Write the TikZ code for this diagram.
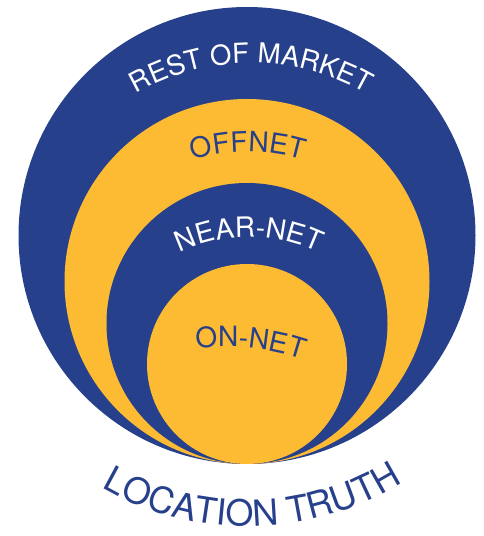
\documentclass[tikz,border=0pt]{standalone}
\usepackage{fontspec}
\usetikzlibrary{decorations.text}
\newfontfamily\labfont{TeX Gyre Heros}
\definecolor{ringblue}{RGB}{38,64,139}
\definecolor{ringyellow}{RGB}{253,186,51}
\begin{document}
\begin{tikzpicture}[x=1pt,y=1pt,
  ring/.style={circle,inner sep=0pt,outer sep=0pt,draw=none},
  arclabel/.style={decorate,decoration={text along path,text align=center,text color=#1}}]
\useasboundingbox (0,0) rectangle (484,536);
\node[ring,fill=ringblue,minimum size=457pt] (market) at (247,300.5) {};
\node[ring,fill=ringyellow,minimum size=365pt] (offnet) at (247,254.5) {};
\node[ring,fill=ringblue,minimum size=281pt] (nearnet) at (247,212.5) {};
\node[ring,fill=ringyellow,minimum size=200pt] (onnet) at (247,172) {};
% curved labels
\path[arclabel=white,decoration={text={|\labfont\fontsize{27.5}{30}\selectfont|REST OF MARKET}}]
  (251,243) ++(130:230) arc[start angle=130,end angle=50,radius=230];
\path[arclabel=ringblue,decoration={text={|\labfont\fontsize{28}{30}\selectfont|OFFNET}}]
  (248,194) ++(120:190) arc[start angle=120,end angle=60,radius=190];
\path[arclabel=white,decoration={text={|\labfont\fontsize{28}{30}\selectfont|NEAR-NET}}]
  (249,139) ++(130:160) arc[start angle=130,end angle=50,radius=160];
\path[arclabel=ringblue,decoration={text={|\labfont\fontsize{28}{30}\selectfont|ON-NET}}]
  (228,-41) ++(104.5:230) arc[start angle=104.5,end angle=64.5,radius=230];
\path[arclabel=ringblue,decoration={text={|\labfont\fontsize{36}{38}\selectfont|LOCATION TRUTH}}]
  (248,300.5) ++(234:291) arc[start angle=234,end angle=308,radius=291];
\end{tikzpicture}
\end{document}
